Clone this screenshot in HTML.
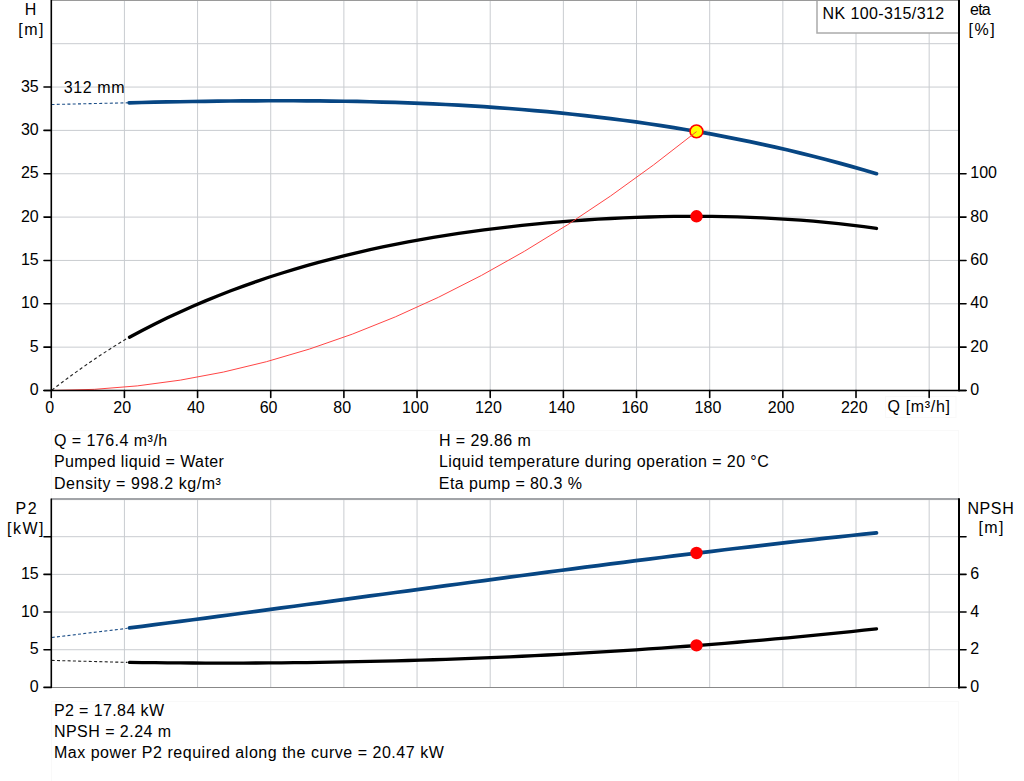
<!DOCTYPE html>
<html><head><meta charset="utf-8"><style>
html,body{margin:0;padding:0;background:#fff;}
body{width:1024px;height:781px;overflow:hidden;position:relative;}
svg{position:absolute;left:0;top:0;}
text{font-family:"Liberation Sans",sans-serif;font-size:16px;fill:#000;white-space:pre;}
</style></head><body>
<svg width="1024" height="781" viewBox="0 0 1024 781">
<g fill="none" stroke="#f9f9f9" stroke-width="1"><rect x="51.5" y="430.5" width="907" height="70"/><rect x="51.5" y="701.5" width="907" height="82"/><rect x="885.5" y="396.5" width="70.5" height="21"/></g>
<g stroke="#c9ccd0" stroke-width="1"><line x1="51" y1="347.15" x2="959" y2="347.15"/><line x1="51" y1="303.8" x2="959" y2="303.8"/><line x1="51" y1="260.45" x2="959" y2="260.45"/><line x1="51" y1="217.1" x2="959" y2="217.1"/><line x1="51" y1="173.75" x2="959" y2="173.75"/><line x1="51" y1="130.4" x2="959" y2="130.4"/><line x1="51" y1="87.05" x2="959" y2="87.05"/><line x1="51" y1="43.7" x2="959" y2="43.7"/><line x1="124.41" y1="0" x2="124.41" y2="390"/><line x1="197.57" y1="0" x2="197.57" y2="390"/><line x1="270.73" y1="0" x2="270.73" y2="390"/><line x1="343.89" y1="0" x2="343.89" y2="390"/><line x1="417.05" y1="0" x2="417.05" y2="390"/><line x1="490.21" y1="0" x2="490.21" y2="390"/><line x1="563.37" y1="0" x2="563.37" y2="390"/><line x1="636.53" y1="0" x2="636.53" y2="390"/><line x1="709.69" y1="0" x2="709.69" y2="390"/><line x1="782.85" y1="0" x2="782.85" y2="390"/><line x1="856.01" y1="0" x2="856.01" y2="390"/><line x1="929.17" y1="0" x2="929.17" y2="390"/><line x1="51" y1="649.73" x2="959" y2="649.73"/><line x1="51" y1="612.05" x2="959" y2="612.05"/><line x1="51" y1="574.38" x2="959" y2="574.38"/><line x1="51" y1="536.7" x2="959" y2="536.7"/><line x1="124.41" y1="499" x2="124.41" y2="687"/><line x1="197.57" y1="499" x2="197.57" y2="687"/><line x1="270.73" y1="499" x2="270.73" y2="687"/><line x1="343.89" y1="499" x2="343.89" y2="687"/><line x1="417.05" y1="499" x2="417.05" y2="687"/><line x1="490.21" y1="499" x2="490.21" y2="687"/><line x1="563.37" y1="499" x2="563.37" y2="687"/><line x1="636.53" y1="499" x2="636.53" y2="687"/><line x1="709.69" y1="499" x2="709.69" y2="687"/><line x1="782.85" y1="499" x2="782.85" y2="687"/><line x1="856.01" y1="499" x2="856.01" y2="687"/><line x1="929.17" y1="499" x2="929.17" y2="687"/></g>
<rect x="817" y="-2" width="142" height="35" fill="#fff" stroke="#ababab" stroke-width="1.5"/>
<line x1="51" y1="0.5" x2="959" y2="0.5" stroke="#9a9a9a" stroke-width="1"/>
<line x1="52" y1="499" x2="959" y2="499" stroke="#a2a4a8" stroke-width="2"/>
<line x1="51" y1="687.5" x2="959" y2="687.5" stroke="#888" stroke-width="1.1"/>
<path d="M51.5,104.5 L127.5,102.8" fill="none" stroke="#1d4f88" stroke-width="1.1" stroke-dasharray="3 2.3"/>
<path d="M129.00,102.79 L141.67,102.50 L154.34,102.22 L167.01,101.97 L179.68,101.73 L192.35,101.51 L205.02,101.31 L217.69,101.14 L230.36,101.00 L243.03,100.88 L255.69,100.80 L268.36,100.75 L281.03,100.73 L293.70,100.75 L306.37,100.81 L319.04,100.91 L331.71,101.05 L344.38,101.23 L357.05,101.46 L369.72,101.74 L382.39,102.07 L395.06,102.44 L407.73,102.88 L420.40,103.36 L433.07,103.91 L445.74,104.51 L458.41,105.18 L471.08,105.91 L483.75,106.70 L496.42,107.56 L509.08,108.48 L521.75,109.48 L534.42,110.55 L547.09,111.70 L559.76,112.92 L572.43,114.22 L585.10,115.60 L597.77,117.06 L610.44,118.60 L623.11,120.23 L635.78,121.95 L648.45,123.75 L661.12,125.65 L673.79,127.64 L686.46,129.73 L699.13,131.91 L711.80,134.19 L724.47,136.57 L737.14,139.06 L749.81,141.65 L762.47,144.34 L775.14,147.15 L787.81,150.06 L800.48,153.09 L813.15,156.23 L825.82,159.49 L838.49,162.86 L851.16,166.35 L863.83,169.97 L876.50,173.71" fill="none" stroke="#074683" stroke-width="3.7" stroke-linecap="round" stroke-linejoin="round"/>
<path d="M51.80,390.20 L56.85,386.31 L61.89,382.48 L66.94,378.71 L71.99,375.01 L77.03,371.36 L82.08,367.77 L87.13,364.24 L92.17,360.78 L97.22,357.37 L102.27,354.02 L107.31,350.74 L112.36,347.51 L117.41,344.35 L122.45,341.24 L127.50,338.20" fill="none" stroke="#222" stroke-width="1.1" stroke-dasharray="3.2 2.6"/>
<path d="M129.50,337.27 L142.16,330.50 L154.82,324.03 L167.48,317.84 L180.14,311.92 L192.81,306.27 L205.47,300.87 L218.13,295.71 L230.79,290.78 L243.45,286.08 L256.11,281.59 L268.77,277.31 L281.43,273.24 L294.09,269.35 L306.75,265.66 L319.42,262.14 L332.08,258.79 L344.74,255.60 L357.40,252.58 L370.06,249.71 L382.72,246.98 L395.38,244.40 L408.04,241.96 L420.70,239.64 L433.36,237.46 L446.03,235.40 L458.69,233.46 L471.35,231.63 L484.01,229.92 L496.67,228.32 L509.33,226.82 L521.99,225.43 L534.65,224.15 L547.31,222.96 L559.97,221.87 L572.64,220.88 L585.30,219.99 L597.96,219.20 L610.62,218.50 L623.28,217.90 L635.94,217.39 L648.60,216.98 L661.26,216.67 L673.92,216.46 L686.58,216.34 L699.25,216.33 L711.91,216.42 L724.57,216.62 L737.23,216.93 L749.89,217.34 L762.55,217.88 L775.21,218.53 L787.87,219.30 L800.53,220.19 L813.19,221.22 L825.86,222.38 L838.52,223.68 L851.18,225.12 L863.84,226.72 L876.50,228.47" fill="none" stroke="#000" stroke-width="3.3" stroke-linecap="round" stroke-linejoin="round"/>
<circle cx="696.45" cy="131.4" r="6.4" fill="#ffff00" stroke="#ff0000" stroke-width="1.6"/>
<path d="M51.25,390.50 L94.27,389.35 L137.29,385.90 L180.30,380.14 L223.32,372.09 L266.34,361.73 L309.36,349.08 L352.38,334.12 L395.39,316.86 L438.41,297.30 L481.43,275.44 L524.45,251.28 L567.47,224.81 L610.49,196.05 L653.50,164.98 L696.52,131.61" fill="none" stroke="#ff3b3b" stroke-width="0.95"/>
<circle cx="696.5" cy="216.3" r="6.2" fill="#ff0000"/>
<path d="M51.7,637.5 L127.5,628.3" fill="none" stroke="#1d4f88" stroke-width="1.1" stroke-dasharray="3 2.3"/>
<path d="M129.50,627.95 L142.16,626.32 L154.82,624.69 L167.48,623.04 L180.14,621.39 L192.81,619.73 L205.47,618.07 L218.13,616.39 L230.79,614.71 L243.45,613.03 L256.11,611.33 L268.77,609.64 L281.43,607.94 L294.09,606.23 L306.75,604.52 L319.42,602.81 L332.08,601.10 L344.74,599.39 L357.40,597.67 L370.06,595.95 L382.72,594.24 L395.38,592.52 L408.04,590.81 L420.70,589.09 L433.36,587.38 L446.03,585.67 L458.69,583.96 L471.35,582.26 L484.01,580.56 L496.67,578.87 L509.33,577.18 L521.99,575.50 L534.65,573.82 L547.31,572.15 L559.97,570.49 L572.64,568.83 L585.30,567.19 L597.96,565.55 L610.62,563.92 L623.28,562.30 L635.94,560.70 L648.60,559.10 L661.26,557.52 L673.92,555.94 L686.58,554.38 L699.25,552.84 L711.91,551.30 L724.57,549.78 L737.23,548.28 L749.89,546.79 L762.55,545.32 L775.21,543.86 L787.87,542.42 L800.53,541.00 L813.19,539.59 L825.86,538.20 L838.52,536.84 L851.18,535.49 L863.84,534.16 L876.50,532.85" fill="none" stroke="#074683" stroke-width="3.7" stroke-linecap="round" stroke-linejoin="round"/>
<path d="M51.7,660.4 L127.5,662.4" fill="none" stroke="#222" stroke-width="1.1" stroke-dasharray="3 2.3"/>
<path d="M129.50,662.41 L142.16,662.57 L154.82,662.71 L167.48,662.83 L180.14,662.92 L192.81,662.99 L205.47,663.04 L218.13,663.06 L230.79,663.06 L243.45,663.03 L256.11,662.98 L268.77,662.91 L281.43,662.81 L294.09,662.69 L306.75,662.55 L319.42,662.38 L332.08,662.18 L344.74,661.97 L357.40,661.72 L370.06,661.45 L382.72,661.16 L395.38,660.84 L408.04,660.49 L420.70,660.12 L433.36,659.73 L446.03,659.31 L458.69,658.86 L471.35,658.39 L484.01,657.89 L496.67,657.36 L509.33,656.81 L521.99,656.23 L534.65,655.63 L547.31,655.00 L559.97,654.34 L572.64,653.65 L585.30,652.94 L597.96,652.20 L610.62,651.43 L623.28,650.64 L635.94,649.82 L648.60,648.97 L661.26,648.09 L673.92,647.19 L686.58,646.25 L699.25,645.29 L711.91,644.30 L724.57,643.29 L737.23,642.24 L749.89,641.16 L762.55,640.06 L775.21,638.93 L787.87,637.77 L800.53,636.58 L813.19,635.36 L825.86,634.11 L838.52,632.83 L851.18,631.52 L863.84,630.18 L876.50,628.81" fill="none" stroke="#000" stroke-width="3.3" stroke-linecap="round" stroke-linejoin="round"/>
<circle cx="696.5" cy="553.0" r="6.2" fill="#ff0000"/>
<circle cx="696.5" cy="645.4" r="6.2" fill="#ff0000"/>
<g stroke="#000" stroke-width="1.6" stroke-linecap="round"><line x1="51.3" y1="0" x2="51.3" y2="390.5"/><line x1="959" y1="0" x2="959" y2="390.5" stroke-width="2"/><line x1="44" y1="390.5" x2="966" y2="390.5"/><line x1="44" y1="390.50" x2="51" y2="390.50"/><line x1="44" y1="347.15" x2="51" y2="347.15"/><line x1="44" y1="303.80" x2="51" y2="303.80"/><line x1="44" y1="260.45" x2="51" y2="260.45"/><line x1="44" y1="217.10" x2="51" y2="217.10"/><line x1="44" y1="173.75" x2="51" y2="173.75"/><line x1="44" y1="130.40" x2="51" y2="130.40"/><line x1="44" y1="87.05" x2="51" y2="87.05"/><line x1="959" y1="390.50" x2="966" y2="390.50"/><line x1="959" y1="347.15" x2="966" y2="347.15"/><line x1="959" y1="303.80" x2="966" y2="303.80"/><line x1="959" y1="260.45" x2="966" y2="260.45"/><line x1="959" y1="217.10" x2="966" y2="217.10"/><line x1="959" y1="173.75" x2="966" y2="173.75"/><line x1="51.25" y1="390.5" x2="51.25" y2="397.5"/><line x1="124.41" y1="390.5" x2="124.41" y2="397.5"/><line x1="197.57" y1="390.5" x2="197.57" y2="397.5"/><line x1="270.73" y1="390.5" x2="270.73" y2="397.5"/><line x1="343.89" y1="390.5" x2="343.89" y2="397.5"/><line x1="417.05" y1="390.5" x2="417.05" y2="397.5"/><line x1="490.21" y1="390.5" x2="490.21" y2="397.5"/><line x1="563.37" y1="390.5" x2="563.37" y2="397.5"/><line x1="636.53" y1="390.5" x2="636.53" y2="397.5"/><line x1="709.69" y1="390.5" x2="709.69" y2="397.5"/><line x1="782.85" y1="390.5" x2="782.85" y2="397.5"/><line x1="856.01" y1="390.5" x2="856.01" y2="397.5"/><line x1="929.17" y1="390.5" x2="929.17" y2="397.5"/><line x1="51.3" y1="499" x2="51.3" y2="687.5"/><line x1="959" y1="499" x2="959" y2="687.8" stroke-width="2"/><line x1="44" y1="687.40" x2="51" y2="687.40"/><line x1="959" y1="687.40" x2="966" y2="687.40"/><line x1="44" y1="649.73" x2="51" y2="649.73"/><line x1="959" y1="649.73" x2="966" y2="649.73"/><line x1="44" y1="612.05" x2="51" y2="612.05"/><line x1="959" y1="612.05" x2="966" y2="612.05"/><line x1="44" y1="574.38" x2="51" y2="574.38"/><line x1="959" y1="574.38" x2="966" y2="574.38"/><line x1="44" y1="536.70" x2="51" y2="536.70"/><line x1="959" y1="536.70" x2="966" y2="536.70"/></g>
<text x="24.75" y="14.85">H</text><text x="18.20" y="34.80" textLength="25.22" lengthAdjust="spacing">[m]</text><text x="970.00" y="14.90" textLength="20.75" lengthAdjust="spacing">eta</text><text x="968.50" y="35.00" textLength="26.12" lengthAdjust="spacing">[%]</text><text x="822.60" y="18.60" textLength="121.59" lengthAdjust="spacing">NK 100-315/312</text><text x="63.65" y="93.00" textLength="60.86" lengthAdjust="spacing">312 mm</text><text x="38.70" y="395.00" text-anchor="end">0</text><text x="38.70" y="352.00" text-anchor="end">5</text><text x="38.70" y="308.00" text-anchor="end">10</text><text x="38.70" y="265.00" text-anchor="end">15</text><text x="38.70" y="222.00" text-anchor="end">20</text><text x="38.70" y="178.00" text-anchor="end">25</text><text x="38.70" y="135.00" text-anchor="end">30</text><text x="38.70" y="92.00" text-anchor="end">35</text><text x="970.30" y="395.00">0</text><text x="970.30" y="352.00">20</text><text x="970.30" y="308.00">40</text><text x="970.30" y="265.00">60</text><text x="970.30" y="222.00">80</text><text x="970.30" y="178.00">100</text><text x="45.15" y="413.00">0</text><text x="113.31" y="413.00">20</text><text x="186.97" y="413.00">40</text><text x="259.63" y="413.00">60</text><text x="333.29" y="413.00">80</text><text x="401.95" y="413.00">100</text><text x="475.11" y="413.00">120</text><text x="548.27" y="413.00">140</text><text x="621.43" y="413.00">160</text><text x="694.59" y="413.00">180</text><text x="767.75" y="413.00">200</text><text x="840.91" y="413.00">220</text><text x="887.40" y="412.20" textLength="62.58" lengthAdjust="spacing">Q [m³/h]</text><text x="53.90" y="445.60" textLength="113.31" lengthAdjust="spacing">Q = 176.4 m³/h</text><text x="53.90" y="467.10" textLength="170.01" lengthAdjust="spacing">Pumped liquid = Water</text><text x="53.90" y="488.60" textLength="167.00" lengthAdjust="spacing">Density = 998.2 kg/m³</text><text x="438.90" y="445.80" textLength="91.84" lengthAdjust="spacing">H = 29.86 m</text><text x="438.90" y="467.10" textLength="329.85" lengthAdjust="spacing">Liquid temperature during operation = 20 °C</text><text x="438.80" y="488.60" textLength="143.12" lengthAdjust="spacing">Eta pump = 80.3 %</text><text x="15.40" y="514.00" textLength="21.18" lengthAdjust="spacing">P2</text><text x="7.10" y="533.50" textLength="36.40" lengthAdjust="spacing">[kW]</text><text x="967.40" y="514.00" textLength="46.32" lengthAdjust="spacing">NPSH</text><text x="978.40" y="533.00" textLength="24.99" lengthAdjust="spacing">[m]</text><text x="38.70" y="692.00" text-anchor="end">0</text><text x="38.70" y="654.00" text-anchor="end">5</text><text x="38.70" y="617.00" text-anchor="end">10</text><text x="38.70" y="579.00" text-anchor="end">15</text><text x="970.30" y="692.00">0</text><text x="970.30" y="654.00">2</text><text x="970.30" y="617.00">4</text><text x="970.30" y="579.00">6</text><text x="53.90" y="715.50" textLength="110.16" lengthAdjust="spacing">P2 = 17.84 kW</text><text x="53.90" y="737.00" textLength="117.24" lengthAdjust="spacing">NPSH = 2.24 m</text><text x="53.90" y="758.00" textLength="389.91" lengthAdjust="spacing">Max power P2 required along the curve = 20.47 kW</text>
</svg></body></html>
